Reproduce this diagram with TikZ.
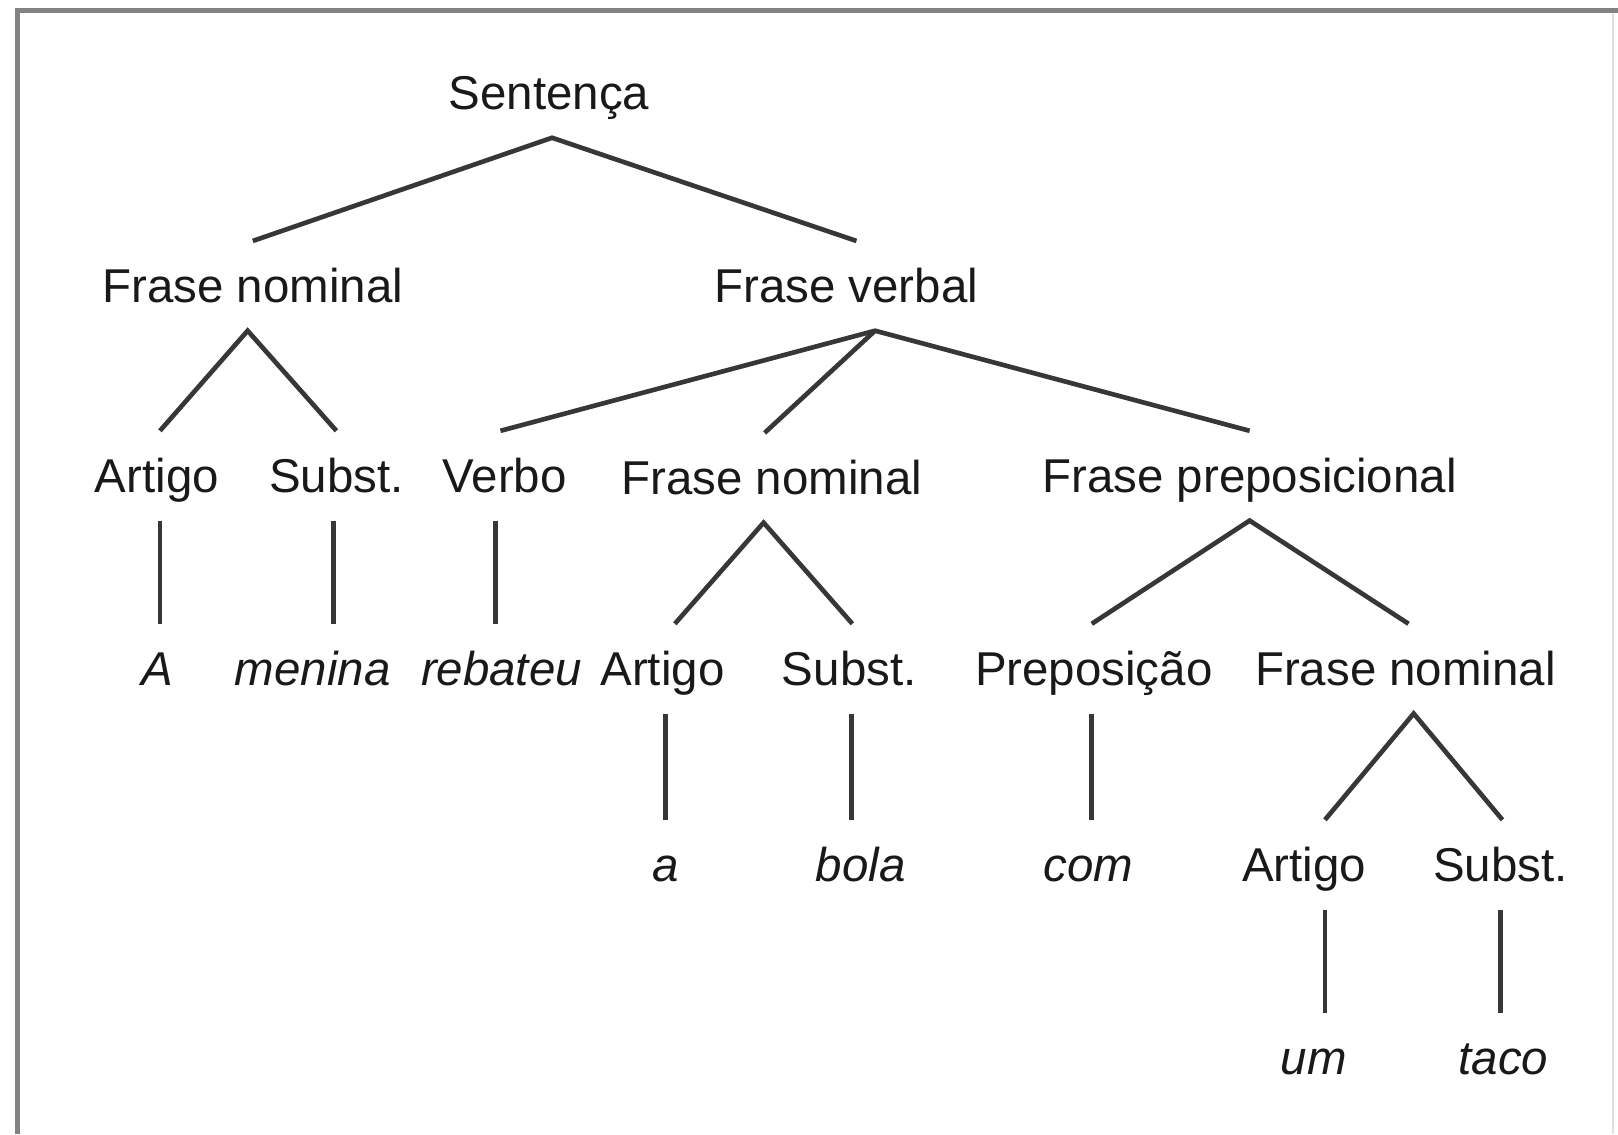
\documentclass[tikz,border=0pt]{standalone}
\usepackage{fontspec}
\setmainfont{Liberation Sans}
\usetikzlibrary{positioning}

\definecolor{framegray}{RGB}{130,130,130}
\definecolor{linegray}{RGB}{55,55,55}

\begin{document}
\begin{tikzpicture}[x=1pt,y=-1pt,
    cat/.style={inner sep=0pt,outer ysep=27pt,text height=33pt,text depth=0pt,
      text=black!90,font=\fontsize{46}{55}\selectfont},
    word/.style={cat,font=\fontsize{46}{55}\selectfont\itshape},
    branch/.style={draw=linegray,line width=4.5pt}]

  \useasboundingbox (0,0) rectangle (1568,1099);

  % frame
  \draw[framegray,line width=5pt] (17,1099) -- (17,10.5) -- (1568,10.5);
  \draw[black!12,line width=1.5pt] (1563,13) -- (1563,1099);

  % categories
  \node[cat] (sent) at (532,90)   {Sentença};
  \node[cat] (fn1)  at (245,277)  {Frase nominal};
  \node[cat] (fv)   at (820,277)  {Frase verbal};
  \node[cat] (art1) at (152,461)  {Artigo};
  \node[cat] (sub1) at (326,461)  {Subst.};
  \node[cat] (verb) at (489,461)  {Verbo};
  \node[cat] (fn2)  at (748,463)  {Frase nominal};
  \node[cat] (fp)   at (1211,461) {Frase preposicional};
  \node[cat] (art2) at (642,648)  {Artigo};
  \node[cat] (sub2) at (823,648)  {Subst.};
  \node[cat] (prep) at (1060,648) {Preposição};
  \node[cat] (fn3)  at (1362,648) {Frase nominal};
  \node[cat] (art3) at (1264,838) {Artigo};
  \node[cat] (sub3) at (1454,838) {Subst.};

  % words
  \node[word] (wA)   at (152,648)  {A};
  \node[word] (wmen) at (303,648)  {menina};
  \node[word] (wreb) at (486,648)  {rebateu};
  \node[word] (wa)   at (645,838)  {a};
  \node[word] (wbol) at (834,838)  {bola};
  \node[word] (wcom) at (1055,838) {com};
  \node[word] (wum)  at (1273,1025) {um};
  \node[word] (wtac) at (1457,1025) {taco};

  % branches
  \draw[branch] (fn1.north) -- ([xshift=3pt]sent.south) -- ([xshift=10pt]fv.north);
  \draw[branch] ([xshift=3pt]art1.north) -- ([xshift=-5pt]fn1.south) -- (sub1.north);
  \draw[branch] ([xshift=-4pt]verb.north) -- ([xshift=28pt]fv.south) -- (fp.north);
  \draw[branch] ([xshift=28pt]fv.south) -- ([xshift=-7pt]fn2.north);
  \draw[branch] ([xshift=12pt]art2.north) -- ([xshift=-8pt]fn2.south) -- ([xshift=3pt]sub2.north);
  \draw[branch] ([xshift=-2pt]prep.north) -- (fp.south) -- ([xshift=3pt]fn3.north);
  \draw[branch] ([xshift=20pt]art3.north) -- ([xshift=8pt]fn3.south) -- ([xshift=2pt]sub3.north);

  % unary branches
  \draw[branch] ([xshift=3pt]art1.south) -- ([xshift=3pt]art1.south |- wA.north);
  \draw[branch] ([xshift=-3pt]sub1.south) -- ([xshift=-3pt]sub1.south |- wmen.north);
  \draw[branch] ([xshift=-9pt]verb.south) -- ([xshift=-9pt]verb.south |- wreb.north);
  \draw[branch] ([xshift=3pt]art2.south) -- ([xshift=3pt]art2.south |- wa.north);
  \draw[branch] ([xshift=2pt]sub2.south) -- ([xshift=2pt]sub2.south |- wbol.north);
  \draw[branch] ([xshift=-2pt]prep.south) -- ([xshift=-2pt]prep.south |- wcom.north);
  \draw[branch] ([xshift=20pt]art3.south) -- ([xshift=20pt]art3.south |- wum.north);
  \draw[branch] (sub3.south) -- (sub3.south |- wtac.north);
\end{tikzpicture}
\end{document}
